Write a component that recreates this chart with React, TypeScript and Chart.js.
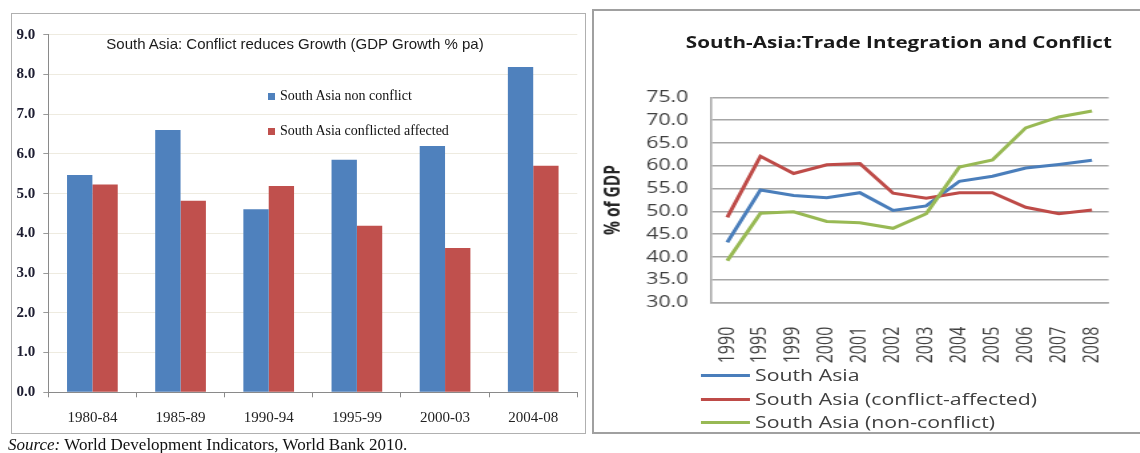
import React, { useEffect, useRef } from 'react';
import { Chart, registerables } from 'chart.js';
Chart.register(...registerables);

// ---- Left chart data: GDP growth % pa ----
const periods = ['1980-84', '1985-89', '1990-94', '1995-99', '2000-03', '2004-08'];
const growthNonConflict = [5.47, 6.6, 4.61, 5.85, 6.2, 8.19];
const growthConflict = [5.23, 4.82, 5.19, 4.19, 3.63, 5.7];
const leftTitle = 'South Asia: Conflict reduces Growth (GDP Growth % pa)';
const leftSeriesNames = ['South Asia non conflict', 'South Asia conflicted affected'];

// ---- Right chart data: trade % of GDP ----
const years = ['1990', '1995', '1999', '2000', '2001', '2002', '2003', '2004', '2005', '2006', '2007', '2008'];
const tradeSouthAsia = [43.2, 54.7, 53.5, 53.0, 54.1, 50.2, 51.2, 56.6, 57.7, 59.5, 60.3, 61.2];
const tradeConflict = [48.7, 62.1, 58.3, 60.2, 60.5, 54.0, 52.9, 54.1, 54.1, 50.9, 49.5, 50.3];
const tradeNonConflict = [39.2, 49.6, 49.9, 47.8, 47.5, 46.3, 49.5, 59.7, 61.3, 68.3, 70.7, 72.0];
const rightTitle = 'South-Asia:Trade Integration and Conflict';
const rightSeriesNames = ['South Asia', 'South Asia (conflict-affected)', 'South Asia (non-conflict)'];

const BLUE = '#4f81bd';
const RED = '#c0504d';
const LBLUE = '#4a7ebb';
const LRED = '#be4b48';
const LGREEN = '#98b954';
const S = 1.33; // horizontal stretch of right panel

export default function App() {
  const leftRef = useRef<HTMLCanvasElement>(null);
  const rightRef = useRef<HTMLCanvasElement>(null);

  useEffect(() => {
    const c1 = new Chart(leftRef.current!, {
      type: 'bar',
      data: {
        labels: periods,
        datasets: [
          { label: leftSeriesNames[0], data: growthNonConflict, backgroundColor: BLUE, borderWidth: 0 },
          { label: leftSeriesNames[1], data: growthConflict, backgroundColor: RED, borderWidth: 0 },
        ],
      },
      options: {
        responsive: false,
        animation: false,
        layout: { padding: { top: 34.7, right: 12.7, left: 0, bottom: 0 } },
        datasets: { bar: { categoryPercentage: 0.575, barPercentage: 1 } },
        plugins: { legend: { display: false }, title: { display: false }, tooltip: { enabled: false } },
        scales: {
          x: {
            grid: { display: true, drawOnChartArea: false, drawTicks: true, tickLength: 5, tickColor: '#8a8a8a', offset: true },
            border: { display: true, color: '#8a8a8a', width: 1 },
            ticks: { font: { family: "'Liberation Serif', serif", size: 15 }, color: '#222', padding: 12 },
            afterFit: (s: any) => { s.height = 60.7; },
          },
          y: {
            min: 0,
            max: 9,
            ticks: {
              stepSize: 1,
              callback: (v: any) => Number(v).toFixed(1),
              font: { family: "'Liberation Serif', serif", size: 15, weight: 'bold' },
              color: '#1c1c30',
              padding: 8,
            },
            grid: { color: '#eeebe0', tickColor: '#9a9a9a', tickLength: 5, lineWidth: 1 },
            border: { display: true, color: '#8a8a8a', width: 1 },
            afterFit: (s: any) => { s.width = 48.3; },
          },
        },
      },
    });

    const c2 = new Chart(rightRef.current!, {
      type: 'line',
      data: {
        labels: years,
        datasets: [
          { label: rightSeriesNames[0], data: tradeSouthAsia, borderColor: LBLUE, backgroundColor: LBLUE, borderWidth: 3, pointRadius: 0, tension: 0, order: 2 },
          { label: rightSeriesNames[1], data: tradeConflict, borderColor: LRED, backgroundColor: LRED, borderWidth: 3, pointRadius: 0, tension: 0, order: 1 },
          { label: rightSeriesNames[2], data: tradeNonConflict, borderColor: LGREEN, backgroundColor: LGREEN, borderWidth: 3, pointRadius: 0, tension: 0, order: 0 },
        ],
      },
      options: {
        responsive: false,
        animation: false,
        layout: { padding: { top: 97.3, right: 15.3, left: 2, bottom: 0 } },
        plugins: { legend: { display: false }, title: { display: false }, tooltip: { enabled: false } },
        scales: {
          x: {
            offset: true,
            grid: { display: false },
            border: { display: true, color: '#a6a6a6', width: 1.5 },
            ticks: {
              autoSkip: false,
              minRotation: 90,
              maxRotation: 90,
              font: { family: "'Open Sans', sans-serif", size: 16 },
              color: '#404040',
              padding: 16,
            },
            afterFit: (s: any) => { s.height = 150.3; },
          },
          y: {
            min: 30,
            max: 75,
            ticks: {
              stepSize: 5,
              callback: (v: any) => Number(v).toFixed(1),
              font: { family: "'Open Sans', sans-serif", size: 16 },
              color: '#404040',
              padding: 16.8,
            },
            grid: { color: '#a6a6a6', lineWidth: 1.5, drawTicks: false },
            border: { display: true, color: '#a6a6a6', width: 1.5 },
            title: {
              display: true,
              text: '% of GDP',
              font: { family: "'Open Sans', sans-serif", size: 15.5, weight: 'bold' },
              color: '#262626',
              padding: { top: 4, bottom: 4 },
            },
            afterFit: (s: any) => { s.width = 86.5; },
          },
        },
      },
    });

    return () => {
      c1.destroy();
      c2.destroy();
    };
  }, []);

  const serif = "'Liberation Serif', 'Times New Roman', serif";
  const sans = "'Open Sans', sans-serif";

  return (
    <div style={{ position: 'fixed', left: 0, top: 0, width: 1140, height: 453, overflow: 'hidden', background: '#fff' }}>
      {/* Left panel */}
      <div style={{ position: 'absolute', left: 11, top: 12.5, width: 575, height: 421, border: '1.5px solid #b0b0b0', boxSizing: 'border-box' }} />
      <canvas ref={leftRef} width={590} height={453} style={{ position: 'absolute', left: 0, top: 0, display: 'block' }} />
      <div style={{ position: 'absolute', left: 95, top: 34, width: 400, lineHeight: '20px', textAlign: 'center', fontFamily: "'Liberation Sans', Arial, sans-serif", fontSize: 15, letterSpacing: '0px', color: '#1a1a1a', whiteSpace: 'nowrap' }}>
        {leftTitle}
      </div>
      {[BLUE, RED].map((c, i) => (
        <div key={i} style={{ position: 'absolute', left: 268, top: i === 0 ? 86 : 121, height: 20, display: 'flex', alignItems: 'center', whiteSpace: 'nowrap' }}>
          <span style={{ display: 'inline-block', width: 7, height: 7, background: c, marginRight: 5 }} />
          <span style={{ fontFamily: serif, fontSize: 14, color: '#111', lineHeight: '20px' }}>{leftSeriesNames[i]}</span>
        </div>
      ))}
      <div style={{ position: 'absolute', left: 8, top: 435, lineHeight: '20px', fontFamily: serif, fontSize: 17, color: '#111', whiteSpace: 'nowrap' }}>
        <i>Source:</i> World Development Indicators, World Bank 2010.
      </div>

      {/* Right panel */}
      <div style={{ position: 'absolute', left: 592, top: 9, width: 600, height: 425, border: '2px solid #a0a0a0', boxSizing: 'border-box' }} />
      <div style={{ position: 'absolute', left: 593, top: 0, width: 411, height: 453, transform: `scaleX(${S})`, transformOrigin: '0 0' }}>
        <canvas ref={rightRef} width={411} height={453} style={{ position: 'absolute', left: 0, top: 0, display: 'block' }} />
        <div style={{ position: 'absolute', left: 30, top: 31, width: 400, lineHeight: '22px', textAlign: 'center', fontFamily: sans, fontWeight: 700, fontSize: 15.5, color: '#1a1a1a', whiteSpace: 'nowrap' }}>
          {rightTitle}
        </div>
        {[LBLUE, LRED, LGREEN].map((c, i) => (
          <div key={i} style={{ position: 'absolute', left: 80.5, top: [375, 399, 422][i] - 11, height: 22, display: 'flex', alignItems: 'center', whiteSpace: 'nowrap' }}>
            <span style={{ display: 'inline-block', width: 37.5, height: 3, background: c, marginRight: 3.8 }} />
            <span style={{ fontFamily: sans, fontSize: 16, color: '#404040', lineHeight: '22px' }}>{rightSeriesNames[i]}</span>
          </div>
        ))}
      </div>
    </div>
  );
}
